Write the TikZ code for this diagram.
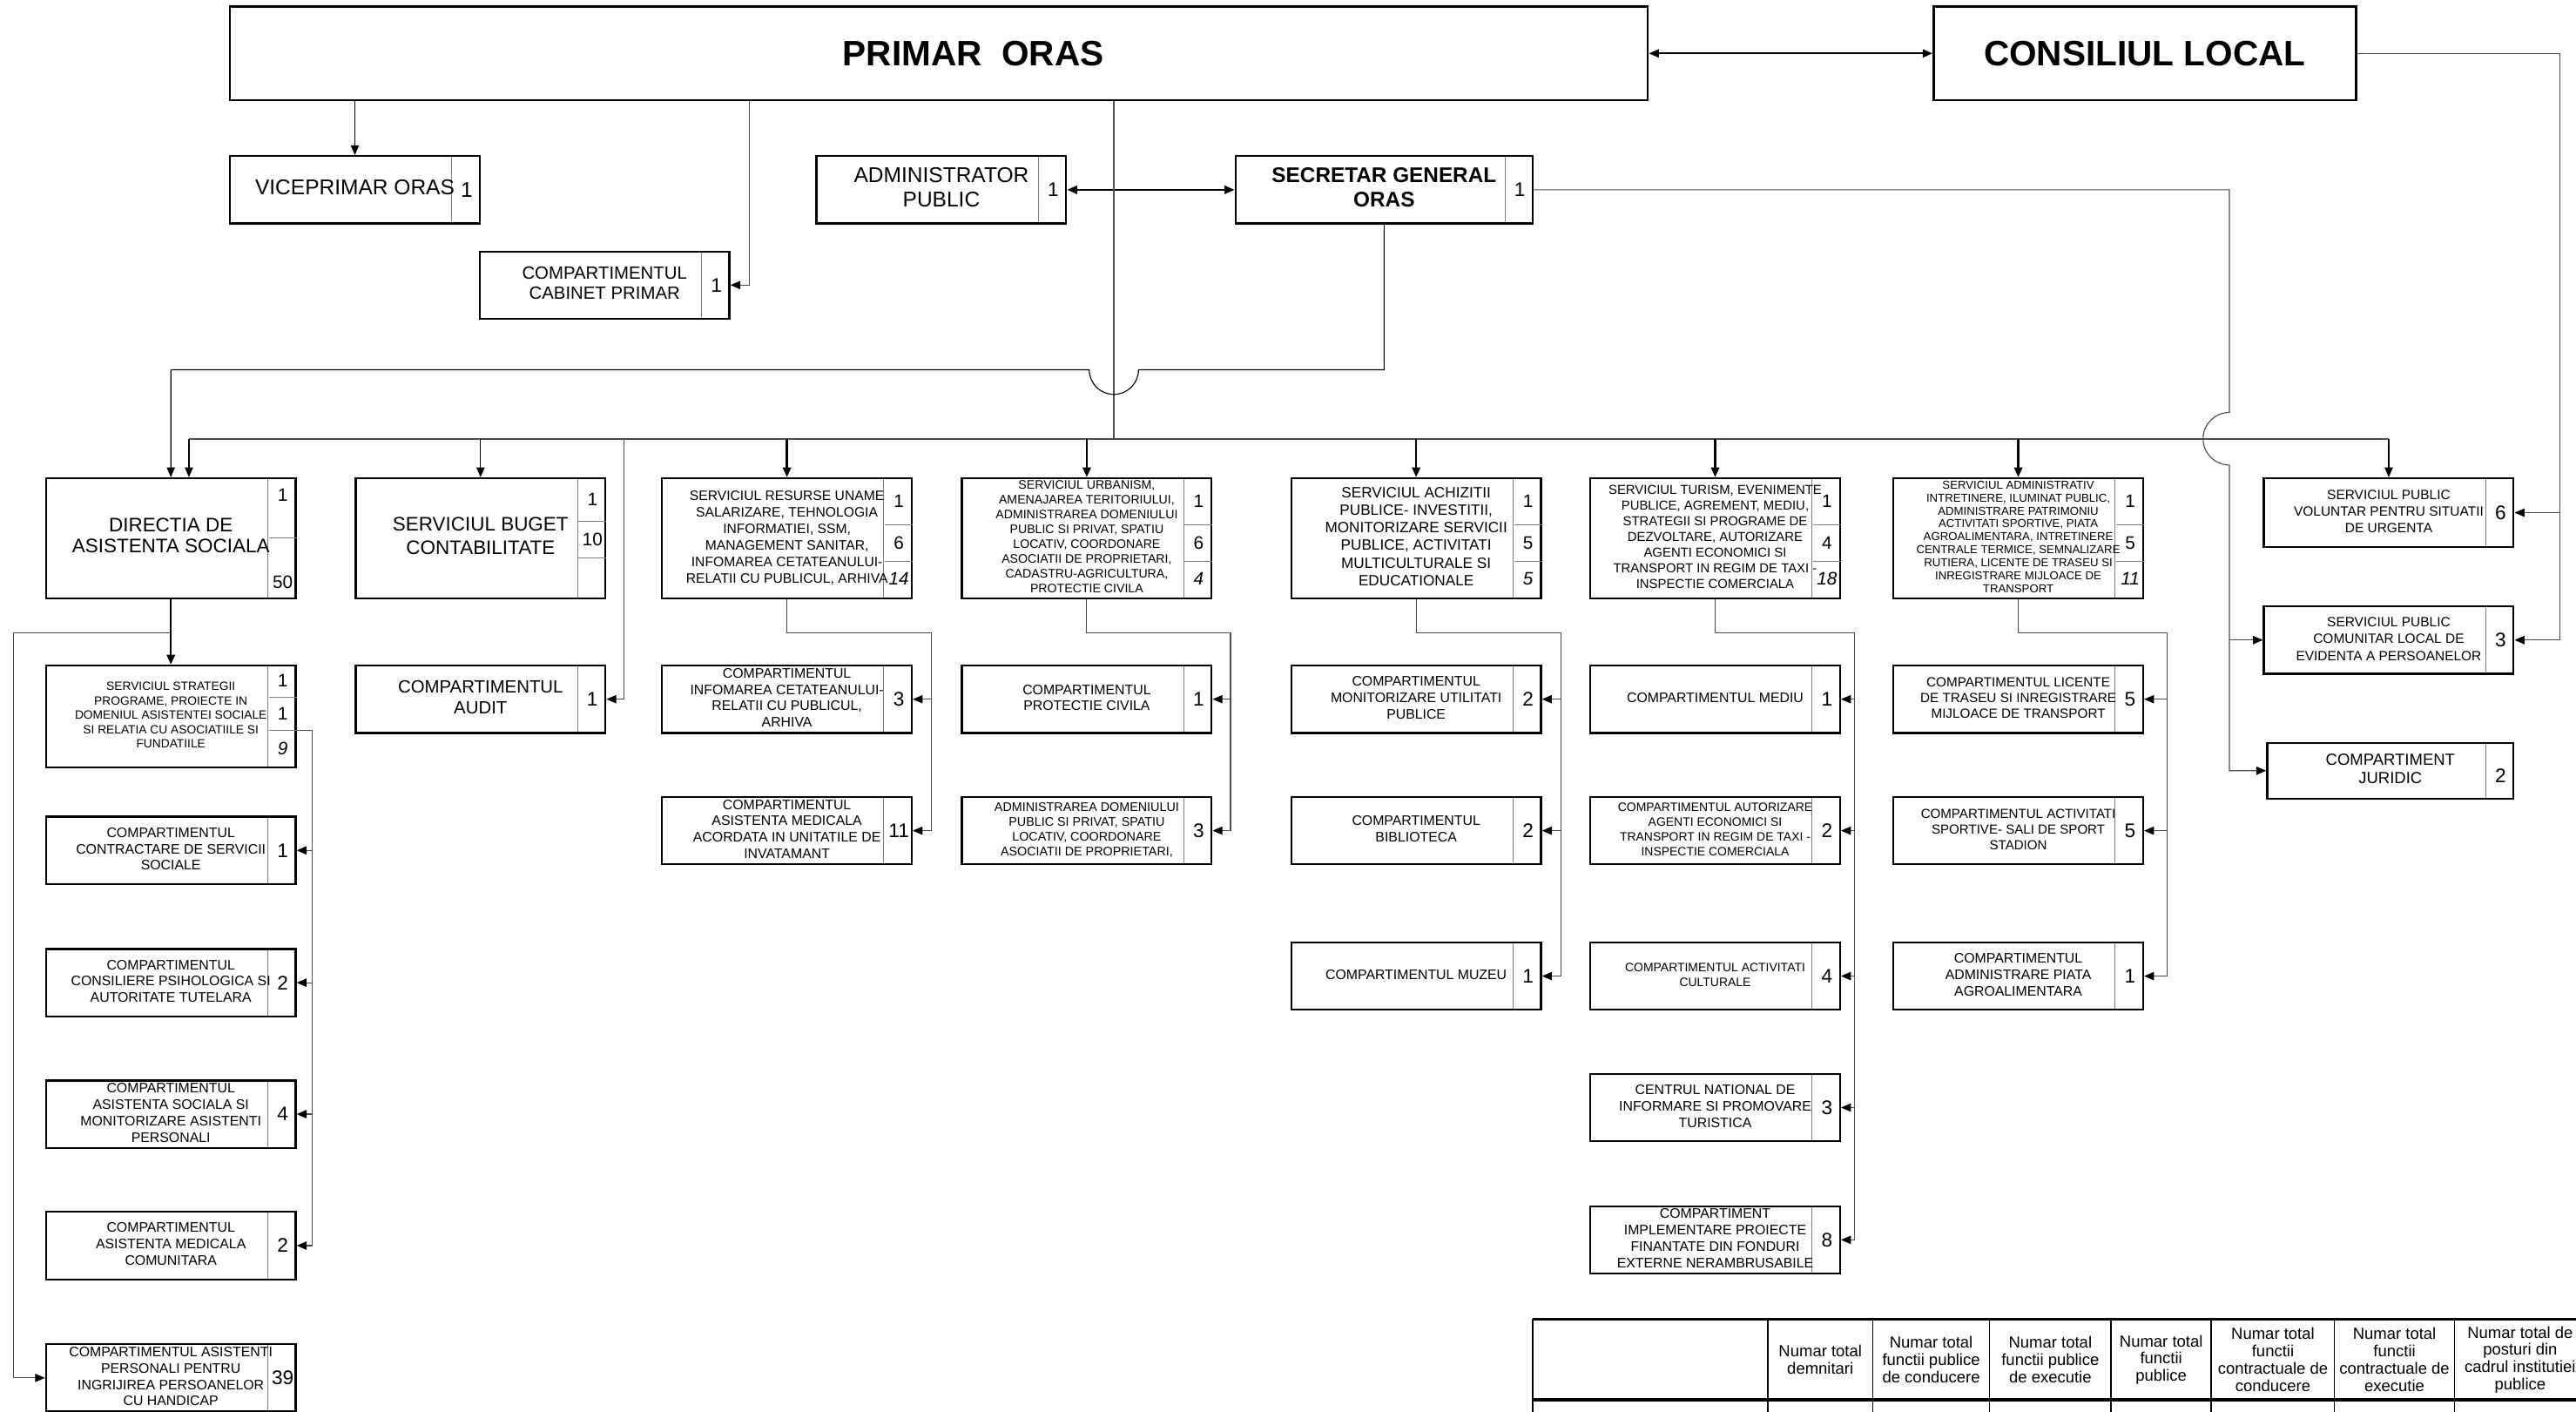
\documentclass[tikz,border=0pt]{standalone}
\usepackage{fontspec}
\setmainfont{Liberation Sans}
\usetikzlibrary{arrows.meta,positioning}

\newcommand{\unittext}[1]{\begin{tabular}{@{}c@{}}#1\end{tabular}\hspace{17pt}}

\tikzset{
    orgbox/.style={draw, line width=1.2pt, inner sep=0pt, minimum width=152, minimum height=41,
        font=\fontsize{8.4}{10}\selectfont,
        path picture={\draw[gray, line width=0.5pt] ([xshift=-17pt]path picture bounding box.north east) -- ([xshift=-17pt]path picture bounding box.south east);}},
    headbox/.style={draw, line width=1.4pt, minimum height=57, font=\bfseries\fontsize{21.5}{24}\selectfont},
    numcell/.style={anchor=east, minimum width=17, inner sep=0pt, outer sep=0pt, font=\fontsize{12}{12}\selectfont},
    cellnum/.style={minimum width=17, inner sep=0pt, outer sep=0pt, font=\fontsize{11}{11}\selectfont},
    lastnum/.style={cellnum, font=\itshape\fontsize{11}{11}\selectfont},
    divline/.style={gray, line width=0.5pt},
    conn/.style={gray!60!black, line width=0.6pt},
    conarrow/.style={conn, -{Triangle[length=6pt, width=5pt, color=black]}},
    droparrow/.style={black, line width=1.3pt, -{Triangle[length=6pt, width=5pt]}},
    thinarrow/.style={black, line width=0.6pt, -{Triangle[length=6pt, width=5pt]}},
    bothways/.style={black, line width=1pt, {Triangle[length=6pt, width=5pt]}-{Triangle[length=6pt, width=5pt]}},
    tcell/.style={draw, line width=0.8pt, minimum height=49, inner sep=0pt, outer sep=0pt, align=center, font=\fontsize{9.8}{10.5}\selectfont},
}

\begin{document}
\begin{tikzpicture}[x=1pt, y=-1pt]
    \useasboundingbox (0,0) rectangle (1568,859);

    % Nodes - conducere
    \node[headbox, minimum width=863] (primar) at (571.5,32.5) {\hspace*{42pt}PRIMAR~~ORAS};
    \node[headbox, minimum width=257] (consiliu) at (1305.5,32.5) {CONSILIUL LOCAL};

    \node[orgbox, font=\fontsize{13}{15}\selectfont] (vicep) at (216,115.5) {\unittext{VICEPRIMAR ORAS}};
    \node[numcell, font=\fontsize{13}{13}\selectfont] (vicep-n) at (vicep.east) {1};
    \node[orgbox, font=\fontsize{10.8}{12.4}\selectfont] (cabinet) at (368,173.5) {\unittext{COMPARTIMENTUL\\CABINET PRIMAR}};
    \node[numcell] (cabinet-n) at (cabinet.east) {1};
    \node[orgbox, font=\fontsize{13}{15}\selectfont] (admin) at (573,115.5) {\unittext{ADMINISTRATOR\\PUBLIC}};
    \node[numcell] (admin-n) at (admin.east) {1};
    \node[orgbox, minimum width=181, font=\bfseries\fontsize{12.9}{15}\selectfont] (secretar) at (842.5,115.5) {\unittext{SECRETAR GENERAL\\ORAS}};
    \node[numcell] (secretar-n) at (secretar.east) {1};

    % Nodes - servicii
    \node[orgbox, minimum height=73, font=\fontsize{11.9}{13}\selectfont] (directia) at (104,327.5) {\unittext{DIRECTIA DE\\ASISTENTA SOCIALA}};
    \node[cellnum, anchor=north east, minimum height=37, text depth=15pt] (directia-n1) at (directia.north east) {1};
    \node[cellnum, below=0pt of directia-n1, minimum height=36, text height=25pt] (directia-n2) {50};
    \draw[divline] (directia-n1.south west) -- (directia-n1.south east);

    \node[orgbox, minimum height=73, font=\fontsize{11.9}{14}\selectfont] (buget) at (292.5,327.5) {\unittext{SERVICIUL BUGET\\CONTABILITATE}};
    \node[cellnum, anchor=north east, minimum height=27] (buget-n1) at (buget.north east) {1};
    \node[cellnum, below=0pt of buget-n1, minimum height=22] (buget-n2) {10};
    \node[cellnum, below=0pt of buget-n2, minimum height=24] (buget-n3) {};
    \draw[divline] (buget-n1.south west) -- (buget-n1.south east) (buget-n2.south west) -- (buget-n2.south east);

    \node[orgbox, minimum height=73, font=\fontsize{8.3}{10.1}\selectfont] (resurse) at (479,327.5) {\unittext{SERVICIUL RESURSE UNAME\\SALARIZARE, TEHNOLOGIA\\INFORMATIEI, SSM,\\MANAGEMENT SANITAR,\\INFOMAREA CETATEANULUI-\\RELATII CU PUBLICUL, ARHIVA}};
    \node[cellnum, anchor=north east, minimum height=29] (resurse-n1) at (resurse.north east) {1};
    \node[cellnum, below=0pt of resurse-n1, minimum height=22] (resurse-n2) {6};
    \node[lastnum, below=0pt of resurse-n2, minimum height=22] (resurse-n3) {14};
    \draw[divline] (resurse-n1.south west) -- (resurse-n1.south east) (resurse-n2.south west) -- (resurse-n2.south east);

    \node[orgbox, minimum height=73, font=\fontsize{7.5}{9}\selectfont] (urbanism) at (661.5,327.5) {\unittext{SERVICIUL URBANISM,\\AMENAJAREA TERITORIULUI,\\ADMINISTRAREA DOMENIULUI\\PUBLIC SI PRIVAT, SPATIU\\LOCATIV, COORDONARE\\ASOCIATII DE PROPRIETARI,\\CADASTRU-AGRICULTURA,\\PROTECTIE CIVILA}};
    \node[cellnum, anchor=north east, minimum height=29] (urbanism-n1) at (urbanism.north east) {1};
    \node[cellnum, below=0pt of urbanism-n1, minimum height=22] (urbanism-n2) {6};
    \node[lastnum, below=0pt of urbanism-n2, minimum height=22] (urbanism-n3) {4};
    \draw[divline] (urbanism-n1.south west) -- (urbanism-n1.south east) (urbanism-n2.south west) -- (urbanism-n2.south east);

    \node[orgbox, minimum height=73, font=\fontsize{9.1}{10.7}\selectfont] (achizitii) at (862,327.5) {\unittext{SERVICIUL ACHIZITII\\PUBLICE- INVESTITII,\\MONITORIZARE SERVICII\\PUBLICE, ACTIVITATI\\MULTICULTURALE SI\\EDUCATIONALE}};
    \node[cellnum, anchor=north east, minimum height=29] (achizitii-n1) at (achizitii.north east) {1};
    \node[cellnum, below=0pt of achizitii-n1, minimum height=22] (achizitii-n2) {5};
    \node[lastnum, below=0pt of achizitii-n2, minimum height=22] (achizitii-n3) {5};
    \draw[divline] (achizitii-n1.south west) -- (achizitii-n1.south east) (achizitii-n2.south west) -- (achizitii-n2.south east);

    \node[orgbox, minimum height=73, font=\fontsize{7.9}{9.5}\selectfont] (turism) at (1044,327.5) {\unittext{SERVICIUL TURISM, EVENIMENTE\\PUBLICE, AGREMENT, MEDIU,\\STRATEGII SI PROGRAME DE\\DEZVOLTARE, AUTORIZARE\\AGENTI ECONOMICI SI\\TRANSPORT IN REGIM DE TAXI -\\INSPECTIE COMERCIALA}};
    \node[cellnum, anchor=north east, minimum height=29] (turism-n1) at (turism.north east) {1};
    \node[cellnum, below=0pt of turism-n1, minimum height=22] (turism-n2) {4};
    \node[lastnum, below=0pt of turism-n2, minimum height=22] (turism-n3) {18};
    \draw[divline] (turism-n1.south west) -- (turism-n1.south east) (turism-n2.south west) -- (turism-n2.south east);

    \node[orgbox, minimum height=73, font=\fontsize{7}{7.9}\selectfont] (administrativ) at (1228.5,327.5) {\unittext{SERVICIUL ADMINISTRATIV\\INTRETINERE, ILUMINAT PUBLIC,\\ADMINISTRARE PATRIMONIU\\ACTIVITATI SPORTIVE, PIATA\\AGROALIMENTARA, INTRETINERE\\CENTRALE TERMICE, SEMNALIZARE\\RUTIERA, LICENTE DE TRASEU SI\\INREGISTRARE MIJLOACE DE\\TRANSPORT}};
    \node[cellnum, anchor=north east, minimum height=29] (administrativ-n1) at (administrativ.north east) {1};
    \node[cellnum, below=0pt of administrativ-n1, minimum height=22] (administrativ-n2) {5};
    \node[lastnum, below=0pt of administrativ-n2, minimum height=22] (administrativ-n3) {11};
    \draw[divline] (administrativ-n1.south west) -- (administrativ-n1.south east) (administrativ-n2.south west) -- (administrativ-n2.south east);

    \node[orgbox, minimum height=42, font=\fontsize{8.2}{10}\selectfont] (voluntar) at (1454,312) {\unittext{SERVICIUL PUBLIC\\VOLUNTAR PENTRU SITUATII\\DE URGENTA}};
    \node[numcell] (voluntar-n) at (voluntar.east) {6};
    \node[orgbox, font=\fontsize{8.2}{10.3}\selectfont] (comunitar) at (1454,389.5) {\unittext{SERVICIUL PUBLIC\\COMUNITAR LOCAL DE\\EVIDENTA A PERSOANELOR}};
    \node[numcell] (comunitar-n) at (comunitar.east) {3};
    \node[orgbox, minimum width=150, minimum height=34, font=\fontsize{9.8}{11}\selectfont] (juridic) at (1455,469) {\unittext{COMPARTIMENT\\JURIDIC}};
    \node[numcell, yshift=-3pt] (juridic-n) at (juridic.east) {2};

    % Nodes - compartimente
    \node[orgbox, minimum height=62, font=\fontsize{7.3}{8.75}\selectfont] (strategii) at (104,436) {\unittext{SERVICIUL STRATEGII\\PROGRAME, PROIECTE IN\\DOMENIUL ASISTENTEI SOCIALE\\SI RELATIA CU ASOCIATIILE SI\\FUNDATIILE}};
    \node[cellnum, anchor=north east, minimum height=20] (strategii-n1) at (strategii.north east) {1};
    \node[cellnum, below=0pt of strategii-n1, minimum height=20] (strategii-n2) {1};
    \node[lastnum, below=0pt of strategii-n2, minimum height=22] (strategii-n3) {9};
    \draw[divline] (strategii-n1.south west) -- (strategii-n1.south east) (strategii-n2.south west) -- (strategii-n2.south east);

    \node[orgbox] (contractare) at (104,517.5) {\unittext{COMPARTIMENTUL\\CONTRACTARE DE SERVICII\\SOCIALE}};
    \node[numcell] (contractare-n) at (contractare.east) {1};
    \node[orgbox] (consiliere) at (104,598) {\unittext{COMPARTIMENTUL\\CONSILIERE PSIHOLOGICA SI\\AUTORITATE TUTELARA}};
    \node[numcell] (consiliere-n) at (consiliere.east) {2};
    \node[orgbox] (asistsoc) at (104,678) {\unittext{COMPARTIMENTUL\\ASISTENTA SOCIALA SI\\MONITORIZARE ASISTENTI\\PERSONALI}};
    \node[numcell] (asistsoc-n) at (asistsoc.east) {4};
    \node[orgbox] (medcom) at (104,758) {\unittext{COMPARTIMENTUL\\ASISTENTA MEDICALA\\COMUNITARA}};
    \node[numcell] (medcom-n) at (medcom.east) {2};
    \node[orgbox] (asistpers) at (104,838.5) {\unittext{COMPARTIMENTUL ASISTENTI\\PERSONALI PENTRU\\INGRIJIREA PERSOANELOR\\CU HANDICAP}};
    \node[numcell] (asistpers-n) at (asistpers.east) {39};

    \node[orgbox, font=\fontsize{10.8}{13}\selectfont] (audit) at (292.5,425.5) {\unittext{COMPARTIMENTUL\\AUDIT}};
    \node[numcell] (audit-n) at (audit.east) {1};

    \node[orgbox] (infomarea) at (479,425.5) {\unittext{COMPARTIMENTUL\\INFOMAREA CETATEANULUI-\\RELATII CU PUBLICUL,\\ARHIVA}};
    \node[numcell] (infomarea-n) at (infomarea.east) {3};
    \node[orgbox] (medacord) at (479,505.5) {\unittext{COMPARTIMENTUL\\ASISTENTA MEDICALA\\ACORDATA IN UNITATILE DE\\INVATAMANT}};
    \node[numcell] (medacord-n) at (medacord.east) {11};

    \node[orgbox] (protectie) at (661.5,425.5) {\unittext{COMPARTIMENTUL\\PROTECTIE CIVILA}};
    \node[numcell] (protectie-n) at (protectie.east) {1};
    \node[orgbox, font=\fontsize{7.6}{9.1}\selectfont] (domeniu) at (661.5,505.5) {\unittext{ADMINISTRAREA DOMENIULUI\\PUBLIC SI PRIVAT, SPATIU\\LOCATIV, COORDONARE\\ASOCIATII DE PROPRIETARI,}};
    \node[numcell] (domeniu-n) at (domeniu.east) {3};

    \node[orgbox] (utilitati) at (862,425.5) {\unittext{COMPARTIMENTUL\\MONITORIZARE UTILITATI\\PUBLICE}};
    \node[numcell] (utilitati-n) at (utilitati.east) {2};
    \node[orgbox] (biblioteca) at (862,505.5) {\unittext{COMPARTIMENTUL\\BIBLIOTECA}};
    \node[numcell] (biblioteca-n) at (biblioteca.east) {2};
    \node[orgbox] (muzeu) at (862,594) {\unittext{COMPARTIMENTUL MUZEU}};
    \node[numcell] (muzeu-n) at (muzeu.east) {1};

    \node[orgbox] (mediu) at (1044,425.5) {\unittext{COMPARTIMENTUL MEDIU}};
    \node[numcell] (mediu-n) at (mediu.east) {1};
    \node[orgbox, font=\fontsize{7.4}{8.85}\selectfont] (autorizare) at (1044,505.5) {\unittext{COMPARTIMENTUL AUTORIZARE\\AGENTI ECONOMICI SI\\TRANSPORT IN REGIM DE TAXI -\\INSPECTIE COMERCIALA}};
    \node[numcell] (autorizare-n) at (autorizare.east) {2};
    \node[orgbox, font=\fontsize{7.4}{9}\selectfont] (culturale) at (1044,594) {\unittext{COMPARTIMENTUL ACTIVITATI\\CULTURALE}};
    \node[numcell] (culturale-n) at (culturale.east) {4};
    \node[orgbox] (centrul) at (1044,674) {\unittext{CENTRUL NATIONAL DE\\INFORMARE SI PROMOVARE\\TURISTICA}};
    \node[numcell] (centrul-n) at (centrul.east) {3};
    \node[orgbox] (implementare) at (1044,754.5) {\unittext{COMPARTIMENT\\IMPLEMENTARE PROIECTE\\FINANTATE DIN FONDURI\\EXTERNE NERAMBRUSABILE}};
    \node[numcell] (implementare-n) at (implementare.east) {8};

    \node[orgbox, font=\fontsize{8.1}{9.5}\selectfont] (licente) at (1228.5,425.5) {\unittext{COMPARTIMENTUL LICENTE\\DE TRASEU SI INREGISTRARE\\MIJLOACE DE TRANSPORT}};
    \node[numcell] (licente-n) at (licente.east) {5};
    \node[orgbox, font=\fontsize{8}{9.5}\selectfont] (sportive) at (1228.5,505.5) {\unittext{COMPARTIMENTUL ACTIVITATI\\SPORTIVE- SALI DE SPORT\\STADION}};
    \node[numcell] (sportive-n) at (sportive.east) {5};
    \node[orgbox] (piata) at (1228.5,594) {\unittext{COMPARTIMENTUL\\ADMINISTRARE PIATA\\AGROALIMENTARA}};
    \node[numcell] (piata-n) at (piata.east) {1};

    % Turning points
    \coordinate (hub) at (678,267);
    \coordinate (hopA) at (678,225);
    \coordinate (hopB) at (1357,267);
    \coordinate (busL) at (115,267);
    \coordinate (cabturn) at (456,173.5);
    \coordinate (auditturn) at (380,425.5);
    \coordinate (cright) at (1558,389.5);
    \coordinate (dleft) at (8,385);
    \coordinate (sright) at (190,758);
    \coordinate (rturn) at (567,385);
    \coordinate (uturn) at (749,385);
    \coordinate (aturn) at (950,385);
    \coordinate (tturn) at (1129,385);
    \coordinate (mturn) at (1319,385);

    % Edges - conducere
    \draw[bothways] (primar.east) -- (consiliu.west);
    \draw[bothways] (admin.east) -- (secretar.west);
    \draw[thinarrow] (primar.south -| vicep.north) -- (vicep.north);
    \draw[conarrow] (primar.south -| cabturn) -- (cabturn) -- (cabinet.east);
    \draw[conn] (primar.south -| hub) -- (hub);
    \draw[conn, line width=1pt] (busL) -- (voluntar.north |- hub);
    \draw[thinarrow] (secretar.south) |- ([xshift=15pt]hopA) arc[start angle=0, end angle=180, radius=15] -- (directia.north |- hopA) -- (directia.north);
    \draw[conarrow] (secretar.east) -| ([yshift=16pt]hopB) arc[start angle=270, end angle=90, radius=16] |- (juridic.west);
    \draw[conarrow] (comunitar.west -| hopB) -- (comunitar.west);
    \draw[conarrow] (consiliu.east) -| (cright) -- (comunitar.east);
    \draw[conarrow] (voluntar.east -| cright) -- (voluntar.east);

    % Edges - servicii
    \draw[thinarrow] (busL) -- (busL |- directia.north);
    \draw[thinarrow] (buget.north |- hub) -- (buget.north);
    \draw[conarrow] (auditturn |- hub) -- (auditturn) -- (audit.east);
    \draw[droparrow] (resurse.north |- hub) -- (resurse.north);
    \draw[droparrow] (urbanism.north |- hub) -- (urbanism.north);
    \draw[droparrow] (achizitii.north |- hub) -- (achizitii.north);
    \draw[droparrow] (turism.north |- hub) -- (turism.north);
    \draw[droparrow] (administrativ.north |- hub) -- (administrativ.north);
    \draw[thinarrow] (voluntar.north |- hub) -- (voluntar.north);

    % Edges - compartimente
    \draw[droparrow] (directia.south) -- (strategii.north);
    \draw[conarrow] (directia.south |- dleft) -- (dleft) |- (asistpers.west);
    \draw[conarrow] (strategii-n2.south east) -| (sright) -- (medcom.east);
    \draw[conarrow] (contractare.east -| sright) -- (contractare.east);
    \draw[conarrow] (consiliere.east -| sright) -- (consiliere.east);
    \draw[conarrow] (asistsoc.east -| sright) -- (asistsoc.east);

    \draw[conarrow] (resurse.south) |- (rturn) |- (medacord.east);
    \draw[conarrow] (infomarea.east -| rturn) -- (infomarea.east);
    \draw[conarrow] (urbanism.south) |- (uturn) |- (domeniu.east);
    \draw[conarrow] (protectie.east -| uturn) -- (protectie.east);
    \draw[conarrow] (achizitii.south) |- (aturn) |- (muzeu.east);
    \draw[conarrow] (utilitati.east -| aturn) -- (utilitati.east);
    \draw[conarrow] (biblioteca.east -| aturn) -- (biblioteca.east);
    \draw[conarrow] (turism.south) |- (tturn) |- (implementare.east);
    \draw[conarrow] (mediu.east -| tturn) -- (mediu.east);
    \draw[conarrow] (autorizare.east -| tturn) -- (autorizare.east);
    \draw[conarrow] (culturale.east -| tturn) -- (culturale.east);
    \draw[conarrow] (centrul.east -| tturn) -- (centrul.east);
    \draw[conarrow] (administrativ.south) |- (mturn) |- (piata.east);
    \draw[conarrow] (licente.east -| mturn) -- (licente.east);
    \draw[conarrow] (sportive.east -| mturn) -- (sportive.east);

    % Table
    \node[tcell, minimum width=143, anchor=north west] (th0) at (933,803) {};
    \node[tcell, minimum width=64, right=0pt of th0] (th1) {Numar total\\demnitari};
    \node[tcell, minimum width=71, right=0pt of th1] (th2) {Numar total\\functii publice\\de conducere};
    \node[tcell, minimum width=74, right=0pt of th2] (th3) {Numar total\\functii publice\\de executie};
    \node[tcell, minimum width=61, right=0pt of th3] (th4) {Numar total\\functii\\publice};
    \node[tcell, minimum width=75, right=0pt of th4] (th5) {Numar total\\functii\\contractuale de\\conducere};
    \node[tcell, minimum width=73, right=0pt of th5] (th6) {Numar total\\functii\\contractuale de\\executie};
    \node[tcell, minimum width=80, right=0pt of th6] (th7) {Numar total de\\posturi din\\cadrul institutiei\\publice};
    \node[tcell, minimum width=143, minimum height=20, below=0pt of th0] (tb0) {};
    \node[tcell, minimum width=64, minimum height=20, below=0pt of th1] (tb1) {};
    \node[tcell, minimum width=71, minimum height=20, below=0pt of th2] (tb2) {};
    \node[tcell, minimum width=74, minimum height=20, below=0pt of th3] (tb3) {};
    \node[tcell, minimum width=61, minimum height=20, below=0pt of th4] (tb4) {};
    \node[tcell, minimum width=75, minimum height=20, below=0pt of th5] (tb5) {};
    \node[tcell, minimum width=73, minimum height=20, below=0pt of th6] (tb6) {};
    \node[tcell, minimum width=80, minimum height=20, below=0pt of th7] (tb7) {};
    \draw[line width=1.6pt] (th0.north west) -- (th7.north east);
    \draw[line width=2pt] (th0.south west) -- (th7.south east);
\end{tikzpicture}
\end{document}
